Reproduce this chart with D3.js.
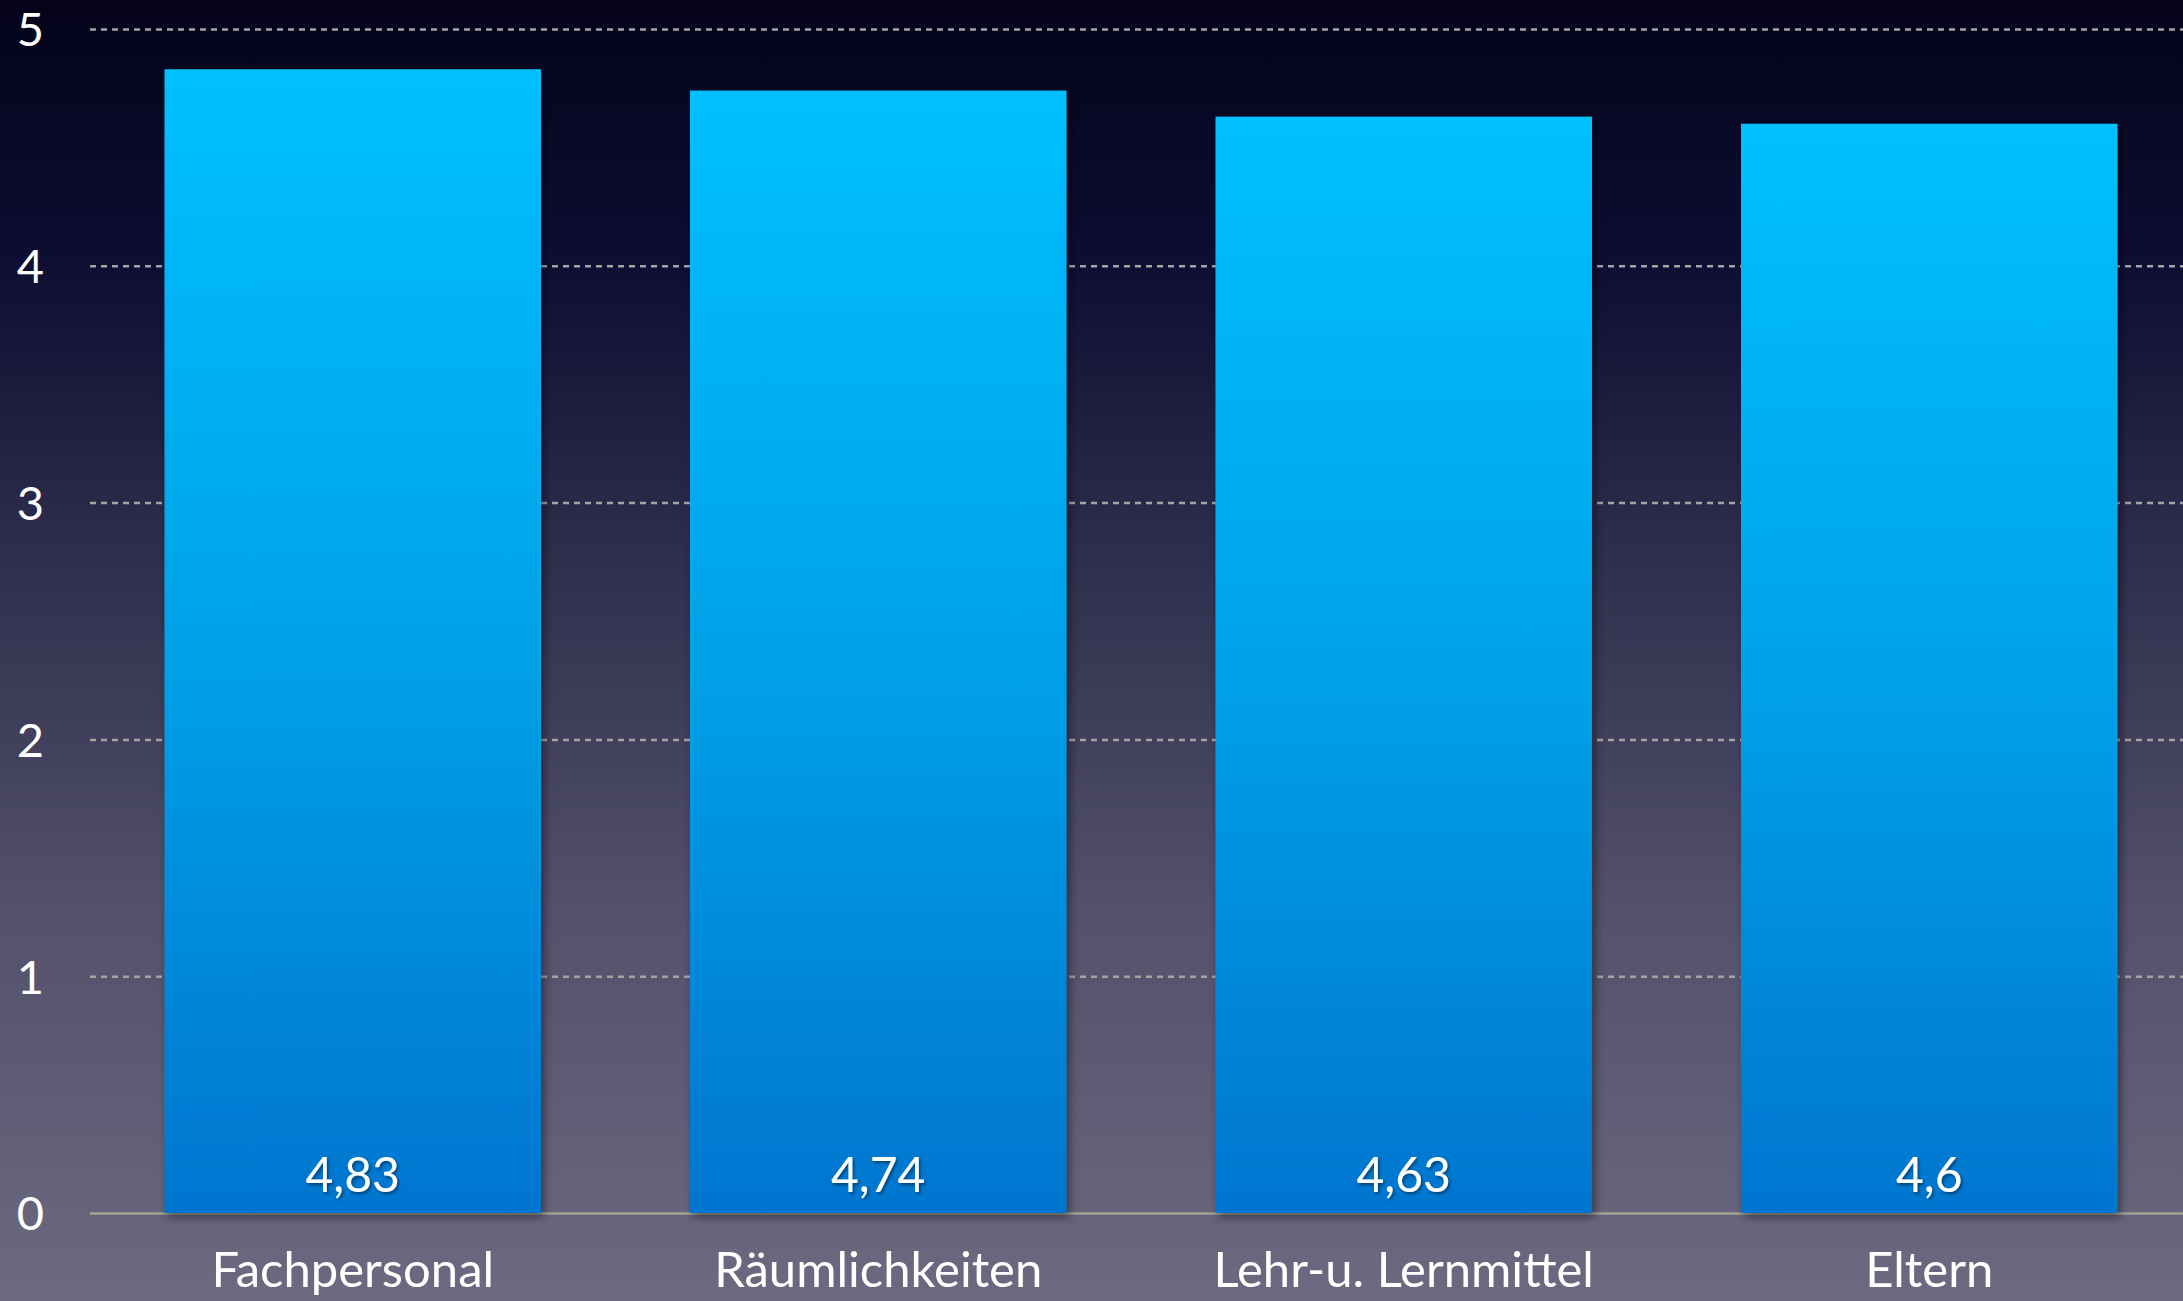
<!DOCTYPE html>
<html>
<head>
<meta charset="utf-8">
<script src="https://cdn.jsdelivr.net/npm/d3@7"></script>
<style>
  html, body { margin: 0; padding: 0; background: #050418; overflow: hidden; }
  svg { display: block; }
  text { font-family: Lato, "Open Sans", sans-serif; fill: #ffffff; }
</style>
</head>
<body>
<svg id="chart" width="2183" height="1301"></svg>
<script>
// Mittlere Bewertung je Bereich (Skala 0–5)
const categories = ["Fachpersonal", "Räumlichkeiten", "Lehr-u. Lernmittel", "Eltern"];
const values = [4.83, 4.74, 4.63, 4.6];
const yTicks = [0, 1, 2, 3, 4, 5];

const W = 2183, H = 1301;
const svg = d3.select("#chart");

const de = d3.formatLocale({ decimal: ",", thousands: ".", grouping: [3], currency: ["", " €"] });
const fmt = de.format("~g");

const defs = svg.append("defs");

// Hintergrund: dunkles Nachtblau oben, grauviolett unten
const bg = defs.append("linearGradient").attr("id", "bg")
  .attr("x1", 0).attr("y1", 0).attr("x2", 0).attr("y2", 1);
[["0", "#04031a"], ["0.2", "#0e0d33"], ["0.4", "#2b2a49"], ["0.7", "#53516b"], ["1", "#6c6a80"]]
  .forEach(([o, c]) => bg.append("stop").attr("offset", o).attr("stop-color", c));

// Balkenverlauf: hellblau oben, kräftiges Blau unten
const barGrad = defs.append("linearGradient").attr("id", "barGrad")
  .attr("x1", 0).attr("y1", 0).attr("x2", 0).attr("y2", 1);
[["0", "#00c0ff"], ["0.5", "#00a2e8"], ["1", "#0075cf"]]
  .forEach(([o, c]) => barGrad.append("stop").attr("offset", o).attr("stop-color", c));

const shadow = defs.append("filter").attr("id", "shadow")
  .attr("x", "-10%").attr("y", "-10%").attr("width", "130%").attr("height", "130%");
shadow.append("feDropShadow").attr("dx", 3).attr("dy", 4).attr("stdDeviation", 5)
  .attr("flood-color", "#000000").attr("flood-opacity", 0.45);

const textShadow = defs.append("filter").attr("id", "tshadow")
  .attr("x", "-20%").attr("y", "-20%").attr("width", "140%").attr("height", "140%");
textShadow.append("feDropShadow").attr("dx", 1.5).attr("dy", 2).attr("stdDeviation", 1.5)
  .attr("flood-color", "#000000").attr("flood-opacity", 0.45);

svg.append("rect").attr("width", W).attr("height", H).attr("fill", "url(#bg)");

const x0 = 90, x1 = 2192;
const x = d3.scaleBand().domain(categories).range([x0, x1])
  .paddingInner(0.2835).paddingOuter(0.14175);
const y = d3.scaleLinear().domain([0, 5]).range([1213, 29]);

// Gitterlinien und Y-Beschriftung
const yAxis = svg.append("g")
  .attr("transform", `translate(${x0},0)`)
  .call(d3.axisLeft(y).tickValues(yTicks).tickFormat(d3.format("d"))
    .tickSizeInner(-(W - x0)).tickSizeOuter(0).tickPadding(46));
yAxis.select(".domain").remove();
yAxis.selectAll(".tick line")
  .attr("stroke-width", 2.5)
  .attr("stroke-dasharray", d => d === 0 ? null : "6,5")
  .attr("stroke", d => d === 0 ? "#a3a396" : "#a4a4a4");
yAxis.selectAll(".tick text")
  .attr("fill", "#ffffff").attr("font-size", 47)
  .attr("font-family", "Lato, 'Open Sans', sans-serif")
  .attr("dy", "0.36em");

// Balken
svg.append("g").selectAll("rect").data(values).join("rect")
  .attr("x", (d, i) => x(categories[i]))
  .attr("y", d => y(d))
  .attr("width", x.bandwidth())
  .attr("height", d => y(0) - y(d))
  .attr("fill", "url(#barGrad)")
  .attr("filter", "url(#shadow)");

// Werte im Balkenfuß
svg.append("g").selectAll("text").data(values).join("text")
  .attr("x", (d, i) => x(categories[i]) + x.bandwidth() / 2)
  .attr("y", y(0) - 21)
  .attr("text-anchor", "middle")
  .attr("font-size", 48)
  .attr("filter", "url(#tshadow)")
  .text(d => fmt(d));

// Kategorien
svg.append("g").selectAll("text").data(categories).join("text")
  .attr("x", d => x(d) + x.bandwidth() / 2)
  .attr("y", 1287)
  .attr("text-anchor", "middle")
  .attr("font-size", 49)
  .text(d => d);
</script>
</body>
</html>
